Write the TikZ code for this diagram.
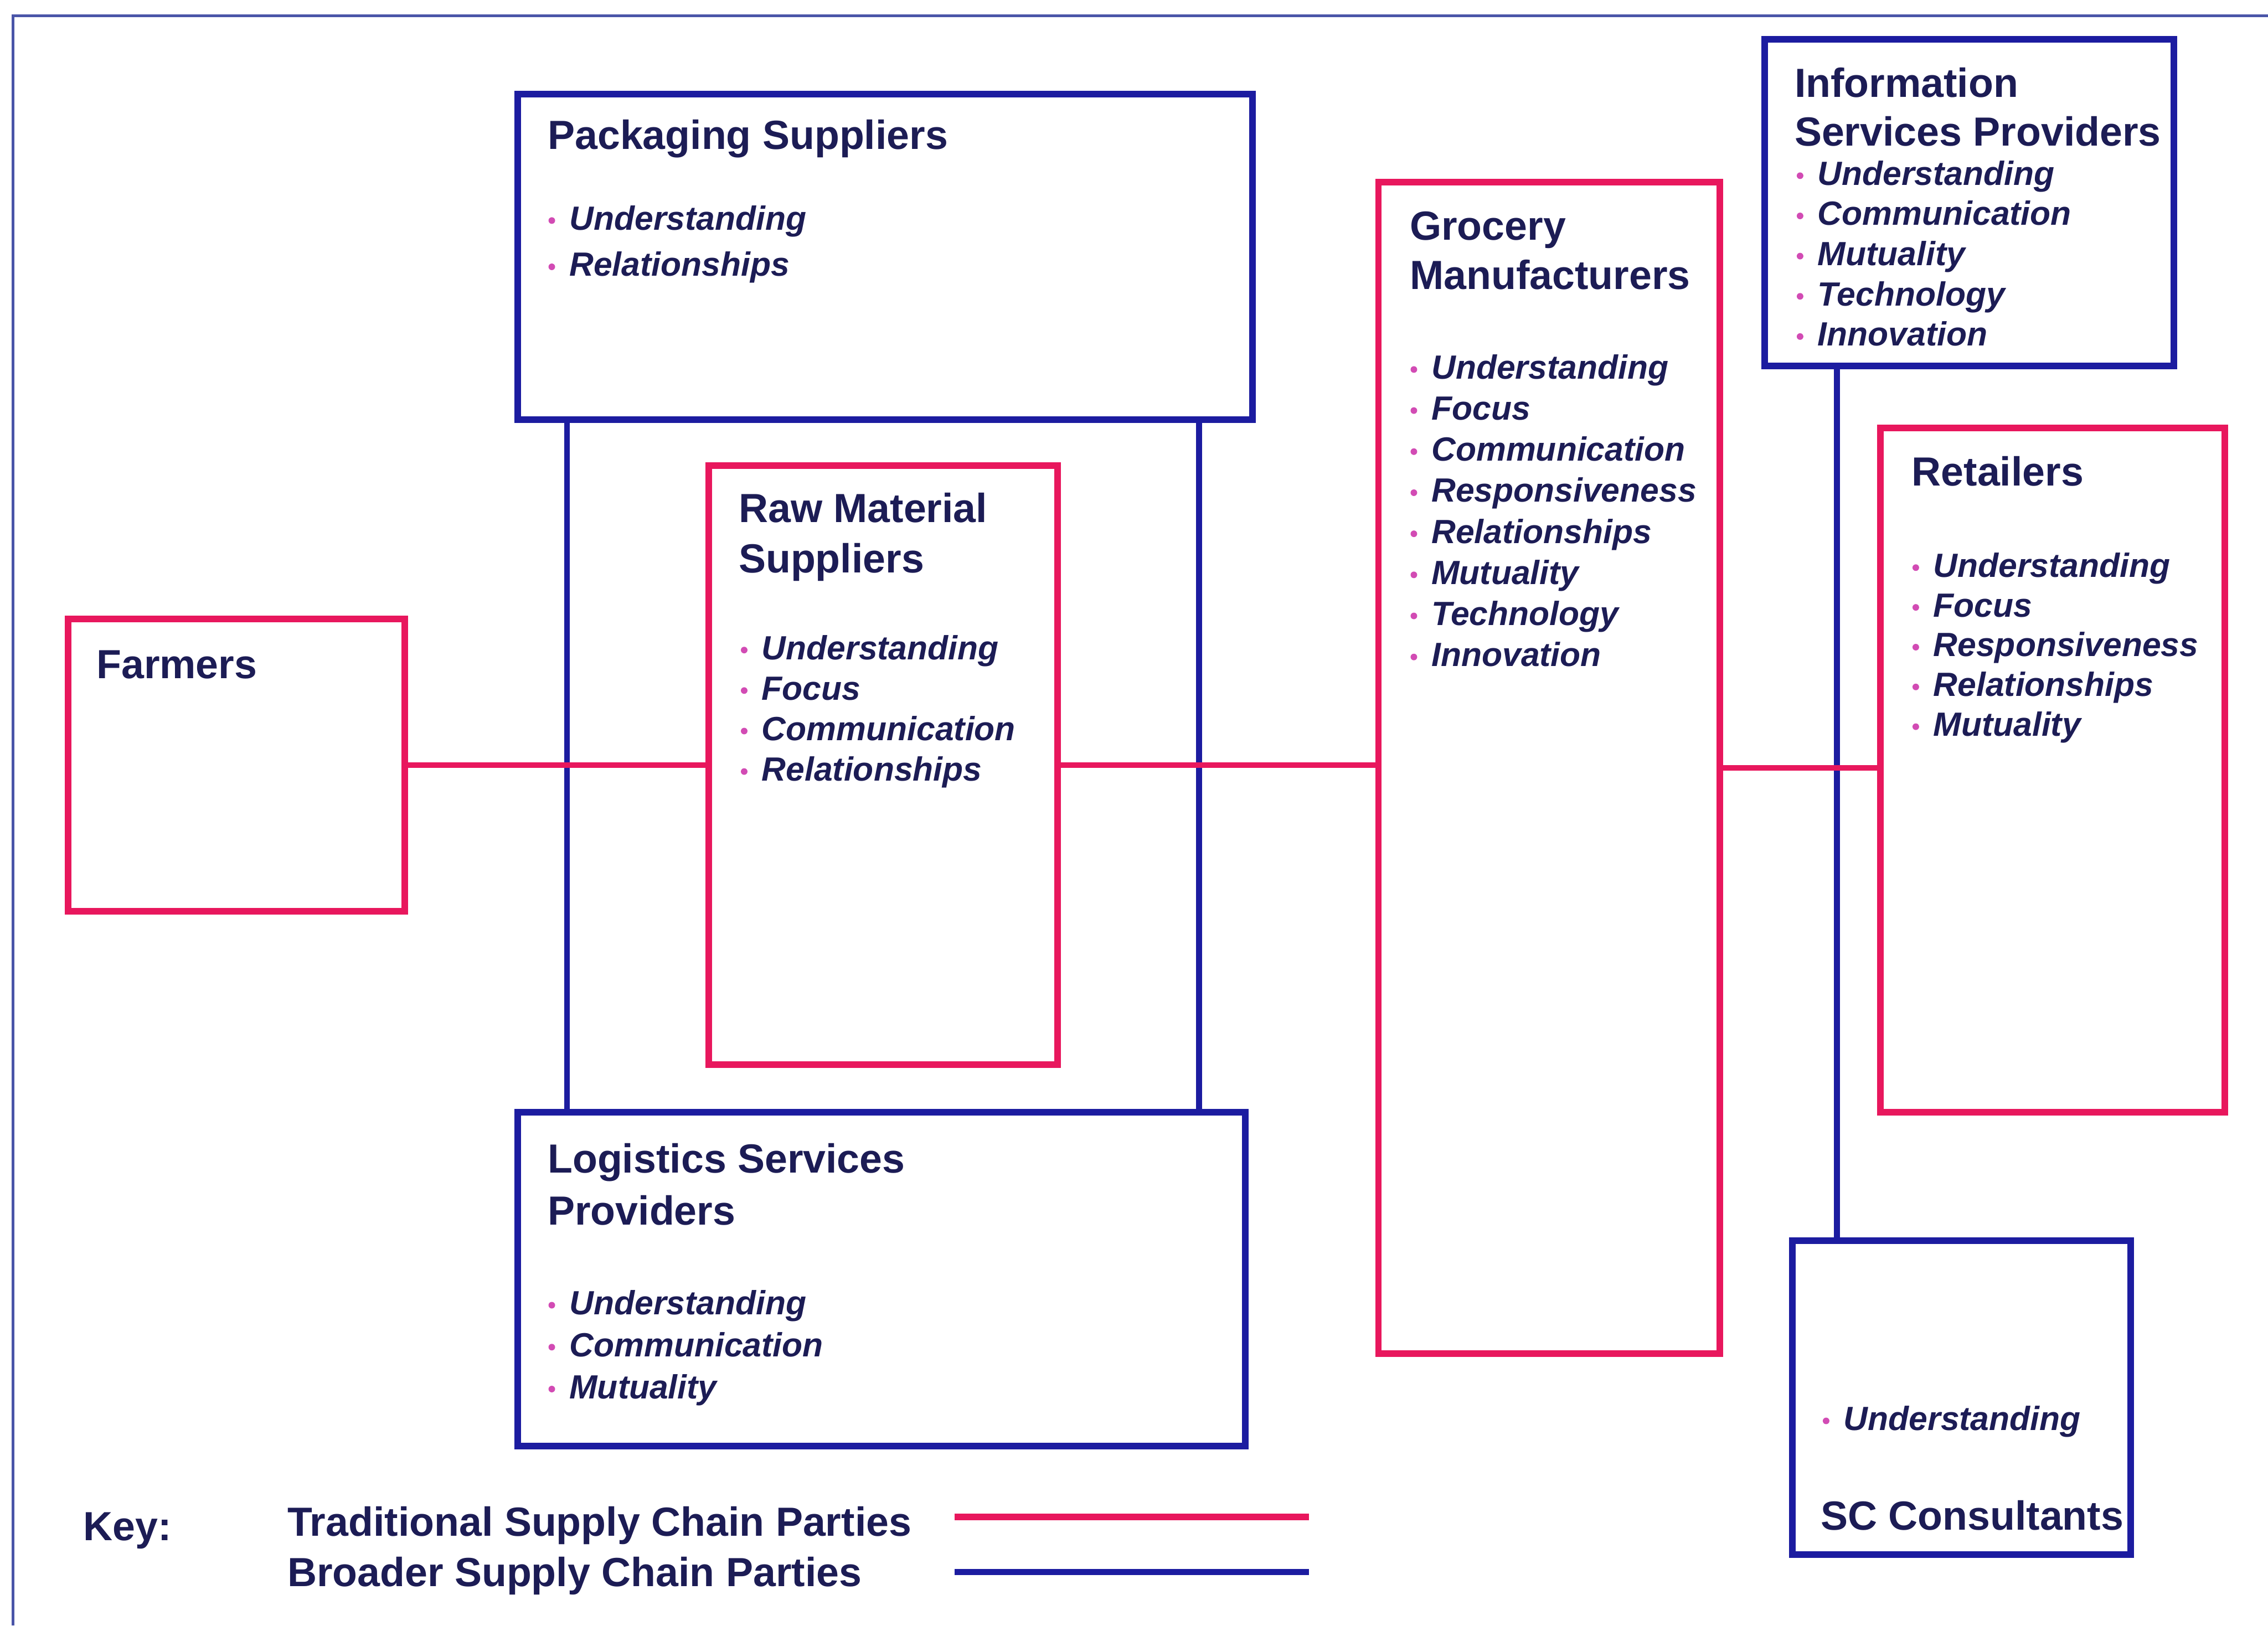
\documentclass[tikz,border=0pt]{standalone}
\usepackage{fontspec}
\setmainfont{Liberation Sans}
\usetikzlibrary{fit,calc}
\definecolor{trad}{HTML}{E8175D}
\definecolor{broad}{HTML}{1C1CA0}
\definecolor{ink}{HTML}{1C1C55}
\definecolor{dotc}{HTML}{D24BB4}
\definecolor{framec}{HTML}{4A55A8}

% list of italic items, each with a small magenta dot in front
% #1 name prefix, #2 x, #3 first baseline, #4 line step, #5 items
\newcommand\partylist[5]{%
  \foreach \t [count=\i from 0] in {#5} {%
    \node[itm] (#1-\i) at (#2,{#3+#4*\i}) {\t};
    \fill[dotc] ([xshift=-0.115cm,yshift=0.065cm]#1-\i.base west) circle[radius=0.65pt];
  }%
}

\begin{document}
\begin{tikzpicture}[x=0.01cm,y=-0.01cm,
  tradbox/.style={draw=trad, line width=1.3pt, inner sep=0pt, outer sep=0pt},
  broadbox/.style={draw=broad, line width=1.3pt, inner sep=0pt, outer sep=0pt},
  tradlink/.style={draw=trad, line width=1.15pt},
  broadlink/.style={draw=broad, line width=1.15pt},
  ttl/.style={anchor=base west, inner sep=0pt, text=ink, font=\bfseries\fontsize{8}{10}\selectfont},
  itm/.style={anchor=base west, inner sep=0pt, text=ink, font=\bfseries\itshape\fontsize{6.6}{8}\selectfont},
]
\useasboundingbox (0,0) rectangle (1568,1124);

% page frame
\draw[framec, line width=0.6pt] (1568,11) -- (9,11) -- (9,1124);

% boxes
\node[broadbox, fit={(358,65)(866,290)}] (pack) {};
\node[tradbox, fit={(490,322)(731,736)}] (raw) {};
\node[tradbox, fit={(47,428)(280,630)}] (farm) {};
\node[broadbox, fit={(358,769)(861,1000)}] (logi) {};
\node[tradbox, fit={(953,126)(1189,936)}] (gm) {};
\node[broadbox, fit={(1220,27)(1503,253)}] (info) {};
\node[tradbox, fit={(1300,296)(1538,769)}] (ret) {};
\node[broadbox, fit={(1239,858)(1473,1075)}] (sc) {};

% broader supply chain links
\draw[broadlink] ($(pack.south west)+(34,0)$) -- ($(logi.north west)+(34,0)$);
\draw[broadlink] ($(pack.south west)+(471,0)$) -- ($(logi.north west)+(471,0)$);
\draw[broadlink] ($(info.south west)+(50,0)$) -- ($(sc.north west)+(31,0)$);

% traditional supply chain links
\draw[tradlink] (farm.east) -- (farm.east -| raw.west);
\draw[tradlink] (raw.east) -- (raw.east -| gm.west);
\draw[tradlink] (gm.east) -- (gm.east -| ret.west);

% titles
\node[ttl] (packT) at (378,103) {Packaging Suppliers};
\node[ttl] (rawT1) at (510,361) {Raw Material};
\node[ttl] (rawT2) at (510,396) {Suppliers};
\node[ttl] (farmT) at (66,469) {Farmers};
\node[ttl] (logiT1) at (378,811) {Logistics Services};
\node[ttl] (logiT2) at (378,847) {Providers};
\node[ttl] (gmT1) at (974,166) {Grocery};
\node[ttl] (gmT2) at (974,200) {Manufacturers};
\node[ttl] (infoT1) at (1240,67) {Information};
\node[ttl] (infoT2) at (1240,101) {Services Providers};
\node[ttl] (retT) at (1321,336) {Retailers};
\node[ttl] (scT) at (1258,1058) {SC Consultants};

% attributes
\partylist{packI}{393}{159}{32}{Understanding,Relationships}
\partylist{rawI}{526}{456}{28}{Understanding,Focus,Communication,Relationships}
\partylist{logiI}{393}{909}{29}{Understanding,Communication,Mutuality}
\partylist{gmI}{989}{262}{28.4}{Understanding,Focus,Communication,Responsiveness,Relationships,Mutuality,Technology,Innovation}
\partylist{infoI}{1256}{128}{27.8}{Understanding,Communication,Mutuality,Technology,Innovation}
\partylist{retI}{1336}{399}{27.5}{Understanding,Focus,Responsiveness,Relationships,Mutuality}
\partylist{scI}{1274}{989}{0}{Understanding}

% key
\node[ttl] (keyT) at (57,1065) {Key:};
\node[ttl] (keyTrad) at (198,1062) {Traditional Supply Chain Parties};
\node[ttl] (keyBroad) at (198,1097) {Broader Supply Chain Parties};
\coordinate (kt1) at (660,1049);
\coordinate (kt2) at (905,1049);
\coordinate (kb1) at (660,1087);
\coordinate (kb2) at (905,1087);
\draw[tradlink, line width=1.3pt] (kt1) -- (kt2);
\draw[broadlink, line width=1.3pt] (kb1) -- (kb2);
\end{tikzpicture}
\end{document}
